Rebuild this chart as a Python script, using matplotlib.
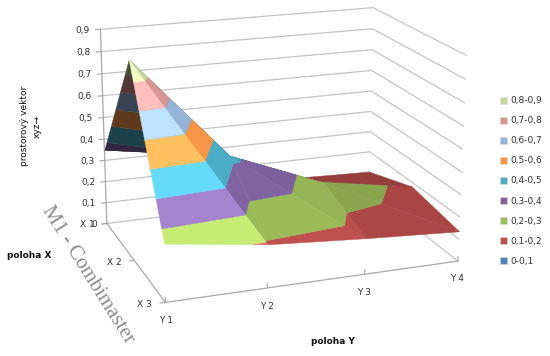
import numpy as np
import matplotlib
matplotlib.use("Agg")
import matplotlib.pyplot as plt
from matplotlib.patches import Patch
from mpl_toolkits.mplot3d import proj3d
from mpl_toolkits.mplot3d.art3d import Poly3DCollection

# Values (rows X 1..X 3, columns Y 1..Y 4)
x_labels = ["X 1", "X 2", "X 3"]
y_labels = ["Y 1", "Y 2", "Y 3", "Y 4"]
z_x1 = [0.35, 0.32, 0.115, 0.10]
z_x2 = [0.88, 0.42, 0.25, 0.18]
z_x3 = [0.25, 0.19, 0.16, 0.135]
z_ticks = [0, 0.1, 0.2, 0.3, 0.4, 0.5, 0.6, 0.7, 0.8, 0.9]
z_tick_labels = ["0", "0,1", "0,2", "0,3", "0,4", "0,5", "0,6", "0,7", "0,8", "0,9"]
band_labels = ["0-0,1", "0,1-0,2", "0,2-0,3", "0,3-0,4", "0,4-0,5", "0,5-0,6", "0,6-0,7", "0,7-0,8", "0,8-0,9"]
band_colors = ["#4f81bd", "#c0504d", "#9bbb59", "#8064a2", "#4bacc6", "#f79646", "#95b3d7", "#d99694", "#c3d69b"]

Z = np.array([z_x1, z_x2, z_x3])
line_gray = "#c4c4c4"
axis_gray = "#a8a8a8"
text_color = "#303030"
font_size = 6.5

plt.rcParams["font.family"] = "DejaVu Sans"

fig = plt.figure(figsize=(5.5, 3.56), dpi=100)
side = 414.9
cx, cy = 271.5, 149.45
ax = fig.add_axes([(cx - side / 2) / 550, (356 - cy - side / 2) / 356, side / 550, side / 356],
                  projection="3d", computed_zorder=False)
ax.view_init(17.59, -110.22, -0.15)
ax.set_proj_type("persp", focal_length=0.684)
ax.set_box_aspect((1, 0.734, 0.6975))
ax.set_axis_off()
ax.patch.set_alpha(0)
ax.set_xlim(0, 3, view_margin=0)
ax.set_ylim(0, 2, view_margin=0)
ax.set_zlim(0, 0.9, view_margin=0)


# plot x = Y position, plot y runs from X 3 (front) to X 1 (back)
def to_world(row, col):
    return np.array([col, 2 - row, Z[row, col]], dtype=float)


def clip_band(tri, lo, hi):
    # cut a polygon to lo <= z <= hi
    poly = list(tri)
    for limit, keep_above in ((lo, True), (hi, False)):
        out = []
        for i in range(len(poly)):
            a, b = poly[i], poly[(i + 1) % len(poly)]
            a_in = a[2] >= limit if keep_above else a[2] <= limit
            b_in = b[2] >= limit if keep_above else b[2] <= limit
            if a_in:
                out.append(a)
            if a_in != b_in:
                t = (limit - a[2]) / (b[2] - a[2])
                out.append(a + t * (b - a))
        poly = out
        if not poly:
            break
    return poly


def shaded(color, factor):
    rgb = np.array(matplotlib.colors.to_rgb(color)) * factor
    if factor > 1:
        rgb = rgb * 0.93 + 0.04
    return tuple(np.clip(rgb, 0, 1))


def label_at(x, y, z, s, **kw):
    # flat text placed where the 3D point lands on the figure
    ax.apply_aspect()
    px, py, _ = proj3d.proj_transform(x, y, z, ax.get_proj())
    dx, dy = ax.transData.transform((px, py))
    fig.text(dx / 550, dy / 356, s, fontsize=font_size, color=text_color, **kw)


# triangles of the surface, back to front, with their brightness
triangles = [
    (((0, 0), (1, 0), (1, 1)), 0.38),
    (((0, 0), (0, 1), (1, 1)), 0.38),
    (((0, 1), (0, 2), (1, 2)), 0.82),
    (((0, 1), (1, 1), (1, 2)), 0.90),
    (((0, 2), (0, 3), (1, 3)), 0.78),
    (((0, 2), (1, 2), (1, 3)), 0.78),
    (((1, 2), (1, 3), (2, 3)), 0.88),
    (((1, 2), (2, 2), (2, 3)), 0.89),
    (((1, 1), (1, 2), (2, 2)), 0.97),
    (((1, 1), (2, 1), (2, 2)), 1.00),
    (((1, 0), (1, 1), (2, 1)), 1.00),
    (((1, 0), (2, 0), (2, 1)), 1.30),
]

order = 5
for corners, factor in triangles:
    tri = [to_world(r, c) for r, c in corners]
    for k, color in enumerate(band_colors):
        poly = clip_band(tri, k / 10, (k + 1) / 10)
        if len(poly) < 3:
            continue
        col = shaded(color, factor)
        pc = Poly3DCollection([np.array(poly)], facecolors=[col], edgecolors=[col], linewidths=0.3, zorder=order)
        ax.add_collection3d(pc, autolim=False)
        order += 1

# walls: back and right, one line per z tick
for z, lab in zip(z_ticks, z_tick_labels):
    ax.plot([0, 3, 3], [2, 2, 0], [z, z, z], color=line_gray, lw=0.9, zorder=1)
    ax.plot([-0.05, 0], [2, 2], [z, z], color=axis_gray, lw=0.8, zorder=2)
    label_at(-0.11, 2, z, lab, ha="right", va="center")

# axis lines of the floor and the z axis
ax.plot([0, 0], [2, 2], [0, 0.9], color=axis_gray, lw=0.9, zorder=2)
ax.plot([0, 0], [2, 0], [0, 0], color=axis_gray, lw=0.9, zorder=2)
ax.plot([0, 3], [0, 0], [0, 0], color=axis_gray, lw=0.9, zorder=2)

for i, lab in enumerate(x_labels):
    ax.plot([-0.05, 0], [2 - i, 2 - i], [0, 0], color=axis_gray, lw=0.8, zorder=2)
    label_at(-0.13, 2 - i, 0, lab, ha="right", va="center")

for j, lab in enumerate(y_labels):
    ax.plot([j, j], [0, 0], [0, 0.02], color=axis_gray, lw=0.8, zorder=2)
    label_at(j, 0, -0.08, lab, ha="center", va="center")

ax.set_xlim(0, 3, view_margin=0)
ax.set_ylim(0, 2, view_margin=0)
ax.set_zlim(0, 0.9, view_margin=0)

# labels around the plot
fig.text(31 / 550, 1 - 126 / 356, "prostorový vektor\nxyz→", rotation=90, ha="center", va="center",
         fontsize=font_size, color="#111111", linespacing=1.55, multialignment="center")
fig.text(7 / 550, 1 - 255 / 356, "poloha X", ha="left", va="center", fontsize=font_size, fontweight="bold",
         color="#111111")
fig.text(333 / 550, 1 - 341 / 356, "poloha Y", ha="center", va="center", fontsize=font_size, fontweight="bold",
         color="#111111")
fig.text(88 / 550, 1 - 275 / 356, "M1 - Combimaster", rotation=-58, ha="center", va="center", fontsize=15,
         family="Liberation Serif", color="#8c8c8c", rotation_mode="anchor")

handles = [Patch(facecolor=c, edgecolor="#dddddd", linewidth=0.4) for c in band_colors[::-1]]
fig.legend(handles, band_labels[::-1], loc="center left", bbox_to_anchor=(500 / 550, 1 - 181 / 356), frameon=False,
           fontsize=font_size, handlelength=0.75, handleheight=0.75, handletextpad=0.4, labelspacing=1.22,
           labelcolor=text_color, borderpad=0, borderaxespad=0)

fig.savefig("out.png", dpi=100)
